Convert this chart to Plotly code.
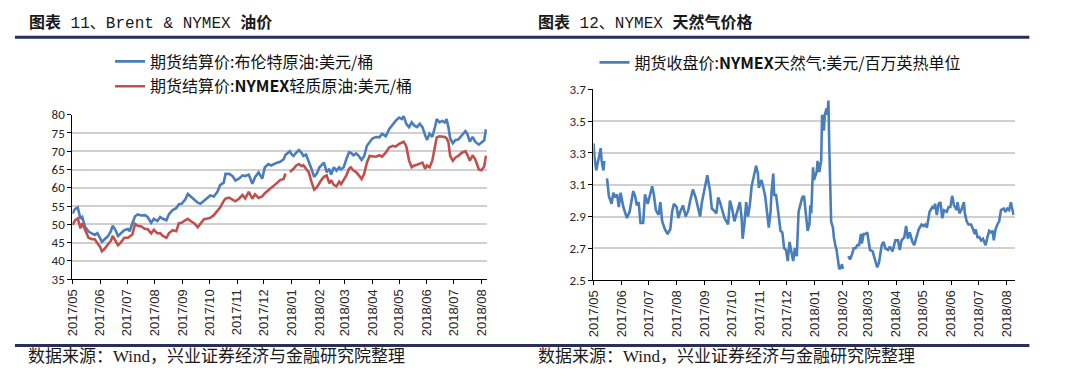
import plotly.graph_objects as go

W, H = 1073, 390

# ---------------- data: Brent & NYMEX WTI (USD/bbl) ----------------
oil_dates = [
    "2017-05-01", "2017-05-04", "2017-05-07", "2017-05-10", "2017-05-12", "2017-05-15", "2017-05-19", "2017-05-23", "2017-05-26", "2017-05-29",
    "2017-06-01", "2017-06-03", "2017-06-06", "2017-06-10", "2017-06-13", "2017-06-15", "2017-06-18", "2017-06-21", "2017-06-24", "2017-06-28",
    "2017-07-02", "2017-07-04", "2017-07-07", "2017-07-10", "2017-07-13", "2017-07-17", "2017-07-21", "2017-07-24", "2017-07-28", "2017-07-31",
    "2017-08-04", "2017-08-07", "2017-08-10", "2017-08-14", "2017-08-17", "2017-08-21", "2017-08-25", "2017-08-28", "2017-08-31",
    "2017-09-04", "2017-09-07", "2017-09-10", "2017-09-14", "2017-09-18", "2017-09-21", "2017-09-25", "2017-09-29",
    "2017-10-02", "2017-10-06", "2017-10-10", "2017-10-13", "2017-10-17", "2017-10-19", "2017-10-23", "2017-10-27", "2017-10-30",
    "2017-11-03", "2017-11-07", "2017-11-10", "2017-11-14", "2017-11-18", "2017-11-21", "2017-11-25", "2017-11-29",
    "2017-12-02", "2017-12-06", "2017-12-09", "2017-12-12", "2017-12-15", "2017-12-19", "2017-12-23", "2017-12-25", "2017-12-28", "2017-12-30",
    "2018-01-01", "2018-01-03", "2018-01-06", "2018-01-09", "2018-01-12", "2018-01-14", "2018-01-17", "2018-01-20", "2018-01-23", "2018-01-26", "2018-01-29",
    "2018-02-01", "2018-02-03", "2018-02-06", "2018-02-09", "2018-02-12", "2018-02-14", "2018-02-17", "2018-02-20", "2018-02-23", "2018-02-25", "2018-02-28",
    "2018-03-03", "2018-03-06", "2018-03-08", "2018-03-11", "2018-03-14", "2018-03-17", "2018-03-20", "2018-03-23", "2018-03-26", "2018-03-29",
    "2018-04-01", "2018-04-05", "2018-04-09", "2018-04-12", "2018-04-16", "2018-04-20", "2018-04-24", "2018-04-27",
    "2018-05-01", "2018-05-04", "2018-05-06", "2018-05-09", "2018-05-12", "2018-05-15", "2018-05-18", "2018-05-21", "2018-05-24", "2018-05-27", "2018-05-30",
    "2018-06-01", "2018-06-04", "2018-06-07", "2018-06-10", "2018-06-12", "2018-06-15", "2018-06-18", "2018-06-21", "2018-06-23", "2018-06-25", "2018-06-27", "2018-06-30",
    "2018-07-03", "2018-07-06", "2018-07-10", "2018-07-14", "2018-07-16", "2018-07-19", "2018-07-22", "2018-07-25", "2018-07-29",
    "2018-08-01", "2018-08-04", "2018-08-06",
]
brent = [
    52.9, 54.2, 54.6, 51.5, 52.0, 49.4, 48.0, 47.6, 47.1, 47.6,
    46.3, 45.2, 45.9, 46.8, 48.1, 49.6, 48.5, 46.8, 47.5, 48.4,
    48.7, 48.1, 50.3, 52.2, 52.7, 52.4, 52.5, 52.0, 50.4, 51.5,
    50.9, 52.0, 51.5, 51.1, 52.8, 53.9, 54.4, 55.5, 55.6,
    56.8, 58.3, 57.7, 56.8, 55.9, 55.6, 56.5, 57.2,
    57.9, 57.6, 58.9, 60.7, 61.4, 63.8, 63.8, 63.2, 62.0,
    62.5, 63.4, 63.2, 63.6, 61.1, 62.9, 64.2, 62.5,
    65.6, 66.5, 66.1, 66.5, 66.8, 67.1, 67.8, 69.0, 69.6, 70.0,
    69.1, 68.7, 69.6, 70.3, 69.6, 68.7, 69.1, 67.4, 65.2, 63.0, 63.9,
    65.6, 66.2, 66.9, 64.3, 65.2, 63.6, 65.6, 64.7, 65.6, 65.0, 65.6,
    67.8, 69.7, 69.6, 68.9, 69.4, 68.7, 67.6, 68.7, 71.5, 72.6,
    73.5, 73.9, 73.8, 74.8, 74.1, 76.1, 77.5, 78.3,
    79.2, 78.8, 79.6, 77.5, 76.6, 77.9, 77.0, 76.6, 77.5, 76.6, 74.4,
    73.1, 74.8, 73.9, 76.6, 78.8, 77.9, 78.3, 77.9, 78.8, 76.6, 73.5, 72.2,
    73.1, 73.2, 74.4, 75.5, 74.8, 72.6, 73.9, 72.6, 71.8,
    72.5, 73.0, 76.0,
]
wti = [
    49.8, 51.1, 51.6, 48.9, 50.3, 48.5, 46.3, 45.9, 45.9, 44.8,
    43.8, 42.6, 43.3, 44.6, 45.5, 46.8, 45.5, 44.3, 45.0, 46.3,
    46.3, 46.6, 47.2, 50.1, 49.6, 49.4, 48.7, 48.7, 47.5, 48.5,
    47.5, 47.6, 46.8, 46.3, 47.6, 48.4, 48.1, 50.3, 50.4,
    51.1, 51.5, 50.9, 50.3, 49.2, 50.3, 51.4, 51.6,
    51.8, 52.5, 53.8, 54.6, 56.4, 57.0, 57.3, 56.8, 56.3,
    57.0, 58.0, 57.1, 58.9, 57.0, 58.2, 57.2, 57.6,
    58.5, 59.3, 59.9, 60.4, 61.2, 62.1, 62.4, 63.9, None, 64.3,
    64.7, 65.2, 66.1, 66.5, 65.9, 66.2, 65.2, 64.3, 61.7, 59.5, 60.1,
    61.5, 62.1, 63.0, 63.4, 61.2, 62.1, 60.8, 60.4, 61.7, 61.0, 62.1,
    63.4, 65.2, 65.6, 64.7, 64.3, 63.4, 62.4, 63.9, 66.9, 68.7,
    68.7, 68.5, 68.9, 68.5, 69.6, 71.1, 71.5, 71.3,
    72.0, 72.3, 72.6, 71.3, 67.5, 65.6, 66.1, 66.3, 66.5, 66.9, 65.2,
    66.1, 65.6, 67.4, 71.3, 73.8, 74.1, 74.1, 73.9, 73.5, 72.5, 68.7, 67.4,
    68.3, 68.7, 69.6, 70.0, 69.1, 67.4, 68.9, 67.8, 65.0,
    64.8, 65.8, 68.8,
]

# ---------------- data: NYMEX natural gas (USD/MMBtu) ----------------
gas_dates = [
    "2017-05-01", "2017-05-02", "2017-05-04", "2017-05-06", "2017-05-08", "2017-05-09", "2017-05-10", "2017-05-12", "2017-05-13", "2017-05-15",
    "2017-05-16", "2017-05-18", "2017-05-21", "2017-05-23", "2017-05-25", "2017-05-27", "2017-05-29", "2017-05-31",
    "2017-06-03", "2017-06-05", "2017-06-07", "2017-06-10", "2017-06-12", "2017-06-14", "2017-06-16", "2017-06-18", "2017-06-20", "2017-06-22",
    "2017-06-25", "2017-06-27", "2017-06-30",
    "2017-07-02", "2017-07-05", "2017-07-07", "2017-07-09", "2017-07-12", "2017-07-14", "2017-07-16", "2017-07-19", "2017-07-22", "2017-07-25",
    "2017-07-27", "2017-07-29",
    "2017-08-01", "2017-08-03", "2017-08-05", "2017-08-08", "2017-08-11", "2017-08-14", "2017-08-16", "2017-08-19", "2017-08-22", "2017-08-24",
    "2017-08-27", "2017-08-29", "2017-08-31",
    "2017-09-02", "2017-09-04", "2017-09-07", "2017-09-09", "2017-09-11", "2017-09-14", "2017-09-16", "2017-09-18", "2017-09-21", "2017-09-23",
    "2017-09-25", "2017-09-27", "2017-09-29",
    "2017-10-01", "2017-10-04", "2017-10-06", "2017-10-08", "2017-10-10", "2017-10-12", "2017-10-13", "2017-10-15", "2017-10-17", "2017-10-19",
    "2017-10-21", "2017-10-23", "2017-10-26", "2017-10-28", "2017-10-30", "2017-10-31",
    "2017-11-03", "2017-11-05", "2017-11-07", "2017-11-09", "2017-11-11", "2017-11-13", "2017-11-14", "2017-11-16", "2017-11-17", "2017-11-19",
    "2017-11-22", "2017-11-24", "2017-11-26", "2017-11-28", "2017-11-30",
    "2017-12-02", "2017-12-04", "2017-12-06", "2017-12-08", "2017-12-10", "2017-12-12", "2017-12-14", "2017-12-16", "2017-12-18", "2017-12-20",
    "2017-12-23", "2017-12-24", "2017-12-26", "2017-12-27", "2017-12-28", "2017-12-30", "2017-12-31",
    "2018-01-03", "2018-01-04", "2018-01-06", "2018-01-07", "2018-01-08", "2018-01-09", "2018-01-11", "2018-01-12", "2018-01-14", "2018-01-15",
    "2018-01-16", "2018-01-17", "2018-01-18", "2018-01-19", "2018-01-21", "2018-01-22", "2018-01-24", "2018-01-25", "2018-01-27", "2018-01-28",
    "2018-01-30", "2018-01-31",
    "2018-02-01", "2018-02-04", "2018-02-07", "2018-02-09", "2018-02-11", "2018-02-13", "2018-02-15", "2018-02-17", "2018-02-19", "2018-02-21",
    "2018-02-22", "2018-02-24", "2018-02-26", "2018-02-28",
    "2018-03-03", "2018-03-06", "2018-03-08", "2018-03-11", "2018-03-13", "2018-03-16", "2018-03-18", "2018-03-20", "2018-03-23", "2018-03-25",
    "2018-03-28", "2018-03-31",
    "2018-04-03", "2018-04-05", "2018-04-07", "2018-04-10", "2018-04-12", "2018-04-14", "2018-04-16", "2018-04-19", "2018-04-21", "2018-04-23",
    "2018-04-26", "2018-04-29",
    "2018-05-01", "2018-05-03", "2018-05-05", "2018-05-08", "2018-05-11", "2018-05-13", "2018-05-14", "2018-05-16", "2018-05-18", "2018-05-20",
    "2018-05-22", "2018-05-24", "2018-05-27", "2018-05-29", "2018-05-31",
    "2018-06-02", "2018-06-04", "2018-06-07", "2018-06-08", "2018-06-10", "2018-06-12", "2018-06-15", "2018-06-16", "2018-06-18", "2018-06-20",
    "2018-06-23", "2018-06-25", "2018-06-27", "2018-06-28", "2018-06-30",
    "2018-07-02", "2018-07-04", "2018-07-06", "2018-07-09", "2018-07-11", "2018-07-13", "2018-07-15", "2018-07-17", "2018-07-18", "2018-07-20",
    "2018-07-22", "2018-07-24", "2018-07-26", "2018-07-29", "2018-07-31",
    "2018-08-02", "2018-08-04", "2018-08-06", "2018-08-07", "2018-08-09",
]
gas = [
    3.36, 3.28, 3.19, 3.25, 3.30, 3.33, 3.25, 3.19, 3.25, None,
    3.14, 3.03, 2.98, 3.05, 3.02, 3.04, 2.96, 3.05,
    2.96, 2.93, 2.89, 2.93, 3.01, 3.06, 3.03, 2.97, 2.99, 2.86,
    2.86, 3.04, 2.98,
    3.03, 3.09, 3.03, 2.94, 2.91, 2.99, 2.87, 2.82, 2.79, 2.82,
    2.93, 2.98,
    2.96, 2.89, 2.93, 2.97, 2.90, 2.94, 3.00, 3.07, 3.02, 2.97,
    2.90, 2.99, 3.05,
    3.09, 3.16, 3.06, 2.95, 2.94, 2.92, 3.02, 2.99, 2.93, 2.89,
    2.87, 2.85, 3.00,
    2.96, 2.87, 2.91, 2.94, 2.99, 2.89, 2.76, 2.85, 2.99, 2.90,
    2.97, 3.09, 3.16, 3.22, 3.17, 3.08,
    3.13, 3.07, 3.03, 2.93, 2.83, 2.93, 3.05, 3.17, 3.03, 3.04,
    2.91, 2.81, 2.80, 2.70, 2.69,
    2.62, 2.74, 2.69, 2.62, 2.70, 2.65, 2.93, 2.98, 3.02, 3.03,
    2.89, 2.81, 2.85, 2.97, 2.92, 3.21, 3.13,
    3.18, 3.25, 3.18, 3.22, 3.25, 3.54, 3.44, 3.54, 3.58, 3.54,
    3.63, 3.33, 2.97, 2.87, 2.83, 2.77, 2.71, 2.69, 2.61, 2.57,
    2.58, 2.60,
    2.57, None, 2.65, 2.63, 2.66, 2.70, 2.70, 2.72, 2.72, 2.79,
    2.73, 2.79, 2.79, 2.80,
    2.69, 2.68, 2.64, 2.58, 2.61, 2.72, 2.74, 2.70, 2.69, 2.71,
    2.68, 2.75,
    2.75, 2.69, 2.75, 2.77, 2.84, 2.76, 2.80, 2.74, 2.72, 2.76,
    2.82, 2.85,
    2.84, 2.85, 2.83, 2.93, 2.96, 2.95, 2.98, 2.91, 2.98, 2.99,
    2.89, 2.94, 2.93, 2.96, 2.96,
    3.03, 2.97, 2.94, 2.99, 2.92, 2.94, 2.99, 2.92, 2.87, 2.85,
    2.85, 2.82, 2.79, 2.82, 2.77,
    2.77, 2.75, 2.76, 2.72, 2.77, 2.81, 2.80, 2.81, 2.75, 2.82,
    2.85, 2.87, 2.94, 2.95, 2.93,
    2.95, 2.94, 2.99, 2.96, 2.91,
]

oil_names = ["期货结算价:布伦特原油:美元/桶", "期货结算价:<b>NYMEX</b>轻质原油:美元/桶"]
gas_name = "期货收盘价:<b>NYMEX</b>天然气:美元/百万英热单位"
titles = ["<b>图表</b> 11、Brent & NYMEX <b>油价</b>", "<b>图表</b> 12、NYMEX <b>天然气价格</b>"]
source = "数据来源：Wind，兴业证券经济与金融研究院整理"

BLUE = "#4A7EBB"
RED = "#C0504D"
NAVY = "#2B2E58"
GRID = "#D0D0D0"
CJK = "Noto Sans CJK SC"
TICKF = dict(family="Liberation Sans, Arial", size=13, color="#262626")


def px_x(p):
    return p / W


def px_y(p):
    return 1 - p / H


fig = go.Figure()
fig.add_trace(go.Scatter(x=oil_dates, y=brent, name=oil_names[0], mode="lines",
                         line=dict(color=BLUE, width=2.6), xaxis="x", yaxis="y",
                         legend="legend", legendgroup="a"))
fig.add_trace(go.Scatter(x=oil_dates, y=wti, name=oil_names[1], mode="lines",
                         line=dict(color=RED, width=2.6), xaxis="x", yaxis="y",
                         legend="legend", legendgroup="b"))
fig.add_trace(go.Scatter(x=gas_dates, y=gas, name=gas_name, mode="lines",
                         line=dict(color=BLUE, width=2.6), xaxis="x2", yaxis="y2",
                         legend="legend2"))

xcommon = dict(type="date", tick0="2017-05-01", dtick="M1", tickformat="%Y/%m",
               tickangle=-90, ticks="outside", ticklen=4, tickcolor="#000",
               showline=True, linecolor="#000", linewidth=1, showgrid=False,
               zeroline=False, tickfont=TICKF, fixedrange=True)
ycommon = dict(ticks="outside", ticklen=4, tickcolor="#000", showline=True,
               linecolor="#000", linewidth=1, showgrid=True, gridcolor=GRID,
               gridwidth=1.5, zeroline=False,
               tickfont=dict(family="Carlito, Liberation Sans", size=13, color="#262626"),
               fixedrange=True)

fig.update_layout(
    width=W, height=H, autosize=False,
    margin=dict(l=0, r=0, t=0, b=0),
    paper_bgcolor="white", plot_bgcolor="white",
    showlegend=True,
    xaxis=dict(xcommon, domain=[px_x(65), px_x(483.4)], range=["2017-05-01", "2018-08-07"], anchor="y"),
    yaxis=dict(ycommon, domain=[px_y(283), px_y(112)], range=[35, 80], dtick=5, tick0=35, anchor="x"),
    xaxis2=dict(xcommon, domain=[px_x(591), px_x(1016)], range=["2017-05-01", "2018-08-10"], anchor="y2"),
    yaxis2=dict(ycommon, domain=[px_y(284), px_y(85.7)], range=[2.5, 3.7], dtick=0.2, tick0=2.5,
                tickformat=".1f", anchor="x2"),
    legend=dict(x=px_x(103), y=px_y(39), xanchor="left", yanchor="top",
                bgcolor="rgba(0,0,0,0)", traceorder="grouped", tracegroupgap=1,
                font=dict(family=CJK, size=16, color="#111")),
    legend2=dict(x=px_x(592), y=px_y(40), xanchor="left", yanchor="top",
                 bgcolor="rgba(0,0,0,0)",
                 font=dict(family=CJK, size=16, color="#111")),
)

# header / footer rules
for yy in (31.5, 352):
    fig.add_shape(type="line", xref="paper", yref="paper",
                  x0=px_x(7), x1=px_x(1031), y0=px_y(yy), y1=px_y(yy),
                  line=dict(color=NAVY, width=3))

for xx, t in zip((19, 533), titles):
    fig.add_annotation(text=t, xref="paper", yref="paper", x=px_x(xx), y=px_y(17),
                       xanchor="left", yanchor="middle", showarrow=False,
                       font=dict(family="Liberation Mono, " + CJK, size=16, color="#1A1A1A"))
for xx in (18, 533):
    fig.add_annotation(text=source, xref="paper", yref="paper", x=px_x(xx), y=px_y(363),
                       xanchor="left", yanchor="middle", showarrow=False,
                       font=dict(family="Liberation Serif, " + CJK, size=17, color="#1A1A1A"))

fig.write_html(
    "out.html",
    config={"displayModeBar": False},
    post_script="document.body.style.margin='0';document.body.style.padding='0';"
                "document.body.style.overflow='hidden';",
)
